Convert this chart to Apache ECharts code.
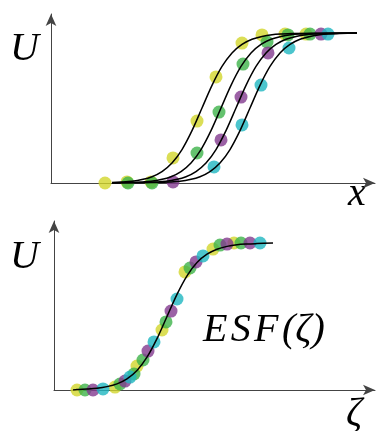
<!DOCTYPE html>
<html>
<head>
<meta charset="utf-8">
<script src="https://cdn.jsdelivr.net/npm/echarts@6/dist/echarts.min.js"></script>
<style>
  html, body { margin: 0; padding: 0; background: #fff; }
  #chart { width: 381px; height: 431px; }
</style>
</head>
<body>
<div id="chart"></div>
<script>
// Profiles U(x) at four positions: measured points and fitted curves
var dotsYellow = [[5.4,0.0],[7.6,0.007],[10.0,0.007],[12.2,0.167],[14.6,0.413],[16.5,0.707],[19.1,0.933],[21.1,0.987],[23.4,0.993],[25.5,0.993]];
var dotsGreen  = [[7.7,0.0],[10.1,0.0],[14.6,0.2],[16.8,0.473],[19.2,0.793],[21.6,0.94],[23.7,0.987],[25.9,0.993]];
var dotsPurple = [[12.2,0.007],[17.0,0.287],[19.0,0.573],[21.7,0.867],[27.0,0.993]];
var dotsCyan   = [[16.3,0.107],[19.1,0.387],[21.0,0.653],[23.8,0.9],[27.7,0.993]];

var curveYellow = [[6.1,0.004],[7.1,0.007],[8.1,0.012],[9.1,0.023],[10.1,0.042],[11.1,0.076],[12.1,0.133],[13.1,0.223],[14.1,0.349],[15.1,0.5],[16.1,0.651],[17.1,0.777],[18.1,0.867],[19.1,0.924],[20.1,0.958],[21.1,0.977],[22.1,0.988],[23.1,0.993],[24.1,0.996],[30.6,1.0]];
var curveGreen  = [[6.1,0.001],[8.0,0.004],[9.0,0.007],[10.0,0.012],[11.0,0.023],[12.0,0.042],[13.0,0.076],[14.0,0.133],[15.0,0.223],[16.0,0.349],[17.0,0.5],[18.0,0.651],[19.0,0.777],[20.0,0.867],[21.0,0.924],[22.0,0.958],[23.0,0.977],[24.0,0.988],[25.0,0.993],[26.0,0.996],[30.6,1.0]];
var curvePurple = [[6.1,0.0],[9.5,0.004],[10.5,0.007],[11.5,0.012],[12.5,0.023],[13.5,0.042],[14.5,0.076],[15.5,0.133],[16.5,0.223],[17.5,0.349],[18.5,0.5],[19.5,0.651],[20.5,0.777],[21.5,0.867],[22.5,0.924],[23.5,0.958],[24.5,0.977],[25.5,0.988],[26.5,0.993],[27.5,0.996],[30.6,1.0]];
var curveCyan   = [[6.1,0.0],[10.9,0.004],[11.9,0.007],[12.9,0.012],[13.9,0.023],[14.9,0.042],[15.9,0.076],[16.9,0.133],[17.9,0.223],[18.9,0.349],[19.9,0.5],[20.9,0.651],[21.9,0.777],[22.9,0.867],[23.9,0.924],[24.9,0.958],[25.9,0.977],[26.9,0.988],[27.9,0.993],[28.9,0.996],[30.6,1.0]];

// Same data against the similarity variable zeta
var zYellow = [[2.3,0],[6.1,0.02],[8.3,0.163],[10.8,0.408],[13.1,0.803],[15.9,0.959],[18.0,1.0]];
var zGreen  = [[3.1,0],[6.6,0.041],[8.0,0.109],[8.9,0.204],[11.2,0.463],[13.6,0.83],[16.6,0.986],[18.7,1.0]];
var zPurple = [[3.9,0],[7.1,0.061],[9.4,0.265],[11.7,0.537],[14.2,0.871],[17.3,0.993],[19.6,1.0]];
var zCyan   = [[4.9,0.007],[7.6,0.088],[10.0,0.327],[12.3,0.619],[14.9,0.912],[20.6,1.0]];
var esfCurve = [[1.9,0.0],[2.3,0.004],[3.3,0.007],[4.3,0.012],[5.3,0.023],[6.3,0.042],[7.3,0.076],[8.3,0.133],[9.3,0.223],[10.3,0.349],[11.3,0.5],[12.3,0.651],[13.3,0.777],[14.3,0.867],[15.3,0.924],[16.3,0.958],[17.3,0.977],[18.3,0.988],[19.3,0.993],[20.3,0.996],[21.9,1.0]];

var colors = { yellow: '#d2d62c', green: '#3db34a', purple: '#82398f', cyan: '#1fb7c1' };

var chart = echarts.init(document.getElementById('chart'), null, { renderer: 'canvas' });

function plainAxis(idx, min, max) {
  return {
    type: 'value', gridIndex: idx, min: min, max: max,
    axisLine: {
      show: true,
      lineStyle: { color: '#444', width: 1 },
      symbol: ['none', 'arrow'],
      symbolSize: [8, 12]
    },
    axisTick: { show: false },
    axisLabel: { show: false }, splitLine: { show: false }
  };
}
function dots(data, color, xi, yi) {
  return {
    type: 'scatter', xAxisIndex: xi, yAxisIndex: yi, data: data,
    symbolSize: 13, itemStyle: { color: color, opacity: 0.8 }, z: 2, silent: true
  };
}
function curve(data, xi, yi) {
  return {
    type: 'line', xAxisIndex: xi, yAxisIndex: yi, data: data,
    smooth: 0.3, showSymbol: false,
    lineStyle: { color: '#000', width: 1.5 }, z: 3, silent: true
  };
}

function mathText(str, x, y) {
  return {
    type: 'text',
    style: {
      text: str, x: x, y: y, fill: '#000',
      fontFamily: 'Liberation Serif', fontStyle: 'italic', fontSize: 40,
      verticalAlign: 'middle'
    }
  };
}

chart.setOption({
  animation: false,
  grid: [
    { left: 51, top: 14, width: 324, height: 169 },
    { left: 54, top: 221, width: 321, height: 169 }
  ],
  xAxis: [plainAxis(0, 0, 32.4), plainAxis(1, 0, 32.1)],
  yAxis: [plainAxis(0, 0, 1.1267), plainAxis(1, 0, 1.1497)],
  series: [
    dots(dotsYellow, colors.yellow, 0, 0),
    dots(dotsGreen, colors.green, 0, 0),
    dots(dotsPurple, colors.purple, 0, 0),
    dots(dotsCyan, colors.cyan, 0, 0),
    curve(curveYellow, 0, 0),
    curve(curveGreen, 0, 0),
    curve(curvePurple, 0, 0),
    curve(curveCyan, 0, 0),
    dots(zYellow, colors.yellow, 1, 1),
    dots(zGreen, colors.green, 1, 1),
    dots(zPurple, colors.purple, 1, 1),
    dots(zCyan, colors.cyan, 1, 1),
    curve(esfCurve, 1, 1)
  ],
  graphic: [
    mathText('U', 10, 49),
    mathText('x', 348, 194),
    mathText('U', 10, 257),
    mathText('ζ', 346, 414),
    mathText('E\u200AS\u200AF\u200A(ζ)', 203, 330)
  ]
});
</script>
</body>
</html>
